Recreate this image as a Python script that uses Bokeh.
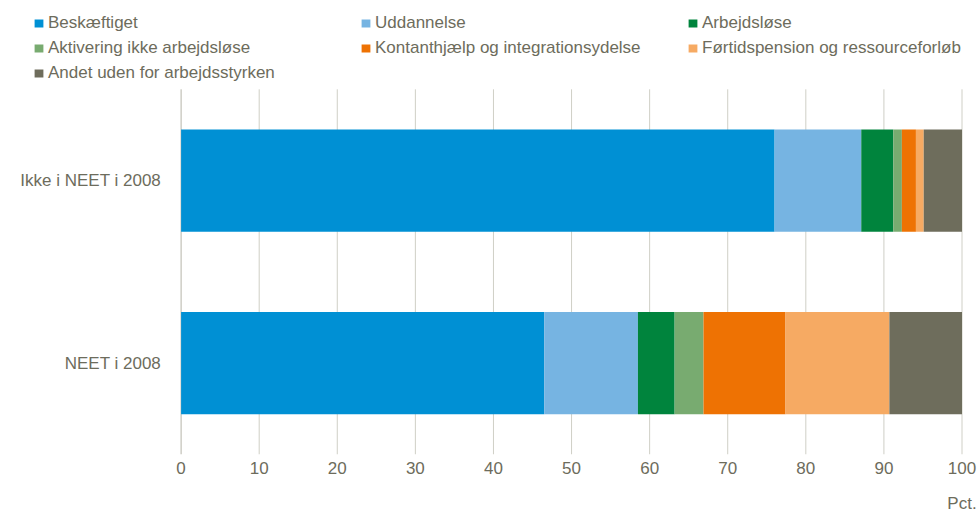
from bokeh.plotting import figure
from bokeh.models import Legend, LegendItem, ColumnDataSource, FixedTicker, LinearAxis, Range1d
from bokeh.core.properties import value
from bokeh.embed import file_html
from bokeh.resources import INLINE

groups = ["NEET i 2008", "Ikke i NEET i 2008"]
series = ["Beskæftiget", "Uddannelse", "Arbejdsløse", "Aktivering ikke arbejdsløse",
          "Kontanthjælp og integrationsydelse", "Førtidspension og ressourceforløb",
          "Andet uden for arbejdsstyrken"]
colors = ["#0090d4", "#76b4e2", "#00843d", "#78ab70", "#ee7203", "#f6aa63", "#6e6d5c"]
# values per series: [NEET i 2008, Ikke i NEET i 2008]
beskaeftiget = [46.5, 76.0]
uddannelse = [12.0, 11.1]
arbejdsloese = [4.7, 4.1]
aktivering = [3.7, 1.1]
kontanthjaelp = [10.5, 1.8]
foertidspension = [13.3, 1.0]
andet = [9.3, 4.9]
x_ticks = [0, 10, 20, 30, 40, 50, 60, 70, 80, 90, 100]
unit_label = "Pct."

values = [beskaeftiget, uddannelse, arbejdsloese, aktivering, kontanthjaelp, foertidspension, andet]
keys = ["s%d" % i for i in range(len(series))]
ypos = list(range(len(groups)))
data = {"g": groups, "y": ypos}
for k, v in zip(keys, values):
    data[k] = v
src = ColumnDataSource(data)

FONT = "Liberation Sans"
TXT = "#6d6c5c"
FS = "17px"

# frame spans the whole canvas width; room on the left for category labels,
# room on top for the legend
p = figure(width=980, height=515, x_range=Range1d(-23.127, 102.369),
           y_range=Range1d(-0.5, 1.9863), y_axis_location=None,
           output_backend="svg", toolbar_location=None,
           min_border_left=0, min_border_right=0, min_border_top=0, min_border_bottom=60)
p.outline_line_color = None
p.xgrid.grid_line_color = None
p.ygrid.grid_line_color = None

# vertical grid lines (only over the bar area)
lo, hi = ypos[0] - 0.5, ypos[-1] + 0.5
p.segment(x0=x_ticks[1:], y0=lo, x1=x_ticks[1:], y1=hi, line_color="#cfcfc6", line_width=1)
p.segment(x0=x_ticks[:1], y0=lo, x1=x_ticks[:1], y1=hi, line_color="#b5b4a8", line_width=1)

renderers = p.hbar_stack(keys, y="y", height=0.56, color=colors, source=src, line_color=None)

# category labels
p.text(x=[x_ticks[0]] * len(groups), y=ypos, text=groups, x_offset=-20,
       text_align="right", text_baseline="middle", text_font=value(FONT),
       text_font_size=FS, text_color=TXT)

p.xaxis.ticker = FixedTicker(ticks=x_ticks)
p.xaxis.axis_line_color = None
p.xaxis.major_tick_line_color = None
p.xaxis.minor_tick_line_color = None
p.xaxis.major_label_text_font = FONT
p.xaxis.major_label_text_font_size = FS
p.xaxis.major_label_text_color = TXT
p.xaxis.major_label_standoff = 1

unit_pos = x_ticks[-1]
unit_axis = LinearAxis(ticker=FixedTicker(ticks=[unit_pos]),
                       major_label_overrides={unit_pos: unit_label},
                       axis_line_color=None, major_tick_line_color=None,
                       minor_tick_line_color=None, major_label_standoff=11,
                       major_label_text_font=FONT, major_label_text_font_size=FS,
                       major_label_text_color=TXT)
p.add_layout(unit_axis, "below")

items = [LegendItem(label=s, renderers=[r]) for s, r in zip(series, renderers)]
legend = Legend(items=items, ncols=3, orientation="horizontal",
                location=(33, 369), glyph_width=11, glyph_height=10,
                label_standoff=4, label_width=312, label_height=25, spacing=0,
                padding=0, margin=0, border_line_color=None, background_fill_alpha=0,
                label_text_font=FONT, label_text_font_size=FS, label_text_color=TXT)
p.add_layout(legend, "center")

open("out.html", "w").write(file_html(p, INLINE))
